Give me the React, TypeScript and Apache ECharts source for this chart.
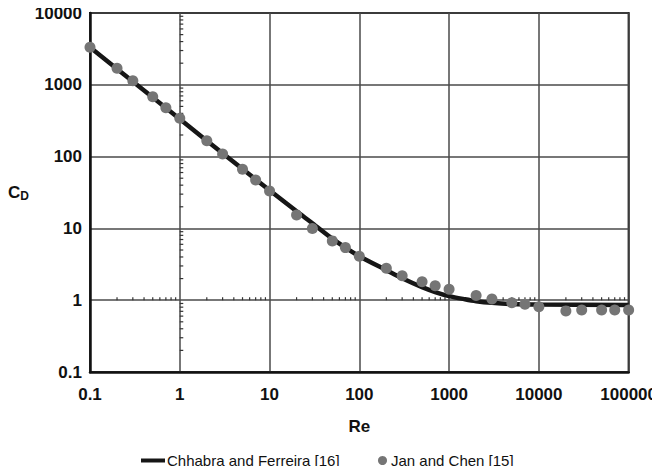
import React, { useEffect, useRef } from "react";
import * as echarts from "echarts";

// Chhabra and Ferreira [16] correlation
const lineRe = [0.1, 0.3, 1, 3, 10, 20, 30, 50, 70, 100, 200, 300, 500, 700, 1000, 1500, 2000, 3000, 5000, 10000, 100000];
const lineCd = [3330, 1110, 333, 111, 34, 17.3, 11.8, 7.2, 5.4, 4.1, 2.62, 2.02, 1.52, 1.3, 1.14, 1.03, 0.97, 0.92, 0.885, 0.87, 0.86];

// Jan and Chen [15] data points
const pointRe = [0.1, 0.2, 0.3, 0.5, 0.7, 1, 2, 3, 5, 7, 10, 20, 30, 50, 70, 100, 200, 300, 500, 700, 1000, 2000, 3000, 5000, 7000, 10000, 20000, 30000, 50000, 70000, 100000];
const pointCd = [3330, 1700, 1140, 683, 480, 341, 166, 109, 66.5, 47.2, 33.2, 15.4, 10.0, 6.7, 5.4, 4.1, 2.78, 2.19, 1.81, 1.59, 1.42, 1.16, 1.04, 0.92, 0.88, 0.81, 0.71, 0.73, 0.73, 0.73, 0.73];

const xTicks = [0.1, 1, 10, 100, 1000, 10000, 100000];
const yTicks = [0.1, 1, 10, 100, 1000, 10000];
const minorMultipliers = [2, 3, 4, 5, 6, 7, 8, 9];

const LINE_NAME = "Chhabra and Ferreira [16]";
const POINT_NAME = "Jan and Chen [15]";

const fmt = (v: number) => String(Number(v.toPrecision(6)));

export default function App() {
  const ref = useRef<HTMLDivElement>(null);

  useEffect(() => {
    if (!ref.current) return;
    const chart = echarts.init(ref.current, null, { renderer: "svg" });
    const font = "'Liberation Sans', Arial, Helvetica, sans-serif";

    const xMinor: number[] = [];
    for (let i = 0; i < xTicks.length - 1; i++) for (const m of minorMultipliers) xMinor.push(xTicks[i] * m);
    const yMinor: number[] = [];
    for (let i = 0; i < yTicks.length - 1; i++) for (const m of minorMultipliers) yMinor.push(yTicks[i] * m);

    chart.setOption({
      animation: false,
      backgroundColor: "#ffffff",
      grid: {
        left: 90,
        right: 30,
        top: 13,
        bottom: 102,
        show: true,
        borderColor: "#111",
        borderWidth: 2,
      },
      xAxis: {
        type: "log",
        logBase: 10,
        min: xTicks[0],
        max: xTicks[xTicks.length - 1],
        name: "Re",
        nameLocation: "middle",
        nameGap: 46,
        nameTextStyle: { fontFamily: font, fontSize: 17, fontWeight: "bold", color: "#111" },
        axisLine: { show: true, lineStyle: { color: "#111", width: 2.5 } },
        axisTick: { show: false },
        axisLabel: { formatter: fmt, fontFamily: font, fontSize: 17, fontWeight: "bold", color: "#111", margin: 14 },
        splitLine: { show: true, lineStyle: { color: "#4a4a4a", width: 1.5 } },
      },
      yAxis: {
        type: "log",
        logBase: 10,
        min: yTicks[0],
        max: yTicks[yTicks.length - 1],
        name: "{c|C}{d|D}",
        nameLocation: "middle",
        nameRotate: 0,
        nameGap: 52,
        nameTextStyle: {
          fontFamily: font,
          color: "#111",
          rich: {
            c: { fontFamily: font, fontSize: 17, fontWeight: "bold", color: "#111" },
            d: { fontFamily: font, fontSize: 12, fontWeight: "bold", color: "#111", verticalAlign: "bottom", padding: [6, 0, 0, 0] },
          },
        },
        axisLine: { show: true, lineStyle: { color: "#111", width: 2.5 } },
        axisTick: { show: false },
        axisLabel: { formatter: fmt, fontFamily: font, fontSize: 17, fontWeight: "bold", color: "#111", margin: 8 },
        splitLine: { show: true, lineStyle: { color: "#4a4a4a", width: 1.5 } },
      },
      legend: [
        {
          data: [{ name: LINE_NAME, icon: "rect" }],
          left: 136,
          top: 448,
          itemWidth: 24,
          itemHeight: 4,
          textStyle: { fontFamily: font, fontSize: 15, color: "#111", padding: [0, 0, 0, -3] },
          selectedMode: false,
        },
        {
          data: [{ name: POINT_NAME, icon: "circle" }],
          left: 373,
          top: 448,
          itemWidth: 9,
          itemHeight: 9,
          textStyle: { fontFamily: font, fontSize: 15, color: "#111", padding: [0, 0, 0, -1] },
          selectedMode: false,
        },
      ],
      series: [
        {
          type: "custom",
          name: "minor ticks",
          coordinateSystem: "cartesian2d",
          silent: true,
          z: 1,
          data: [[1, 1]],
          renderItem: (_params: any, api: any) => {
            const children: any[] = [];
            for (const v of xMinor) {
              const p = api.coord([v, 1]);
              children.push({
                type: "line",
                shape: { x1: p[0], y1: p[1], x2: p[0], y2: p[1] - 3 },
                style: { stroke: "#333", lineWidth: 1.2 },
              });
            }
            for (const v of yMinor) {
              const p = api.coord([1, v]);
              children.push({
                type: "line",
                shape: { x1: p[0], y1: p[1], x2: p[0] + 3.5, y2: p[1] },
                style: { stroke: "#333", lineWidth: 1.2 },
              });
            }
            return { type: "group", children };
          },
        },
        {
          type: "line",
          name: LINE_NAME,
          z: 3,
          data: lineRe.map((x, i) => [x, lineCd[i]]),
          showSymbol: false,
          smooth: 0.3,
          color: "#161616",
          lineStyle: { color: "#161616", width: 4.5 },
        },
        {
          type: "scatter",
          name: POINT_NAME,
          z: 4,
          data: pointRe.map((x, i) => [x, pointCd[i]]),
          symbol: "circle",
          symbolSize: 11,
          color: "#757575",
          itemStyle: { color: "#757575", opacity: 1 },
        },
      ],
    });

    return () => chart.dispose();
  }, []);

  return <div ref={ref} style={{ width: 660, height: 474, margin: -8 }} />;
}
